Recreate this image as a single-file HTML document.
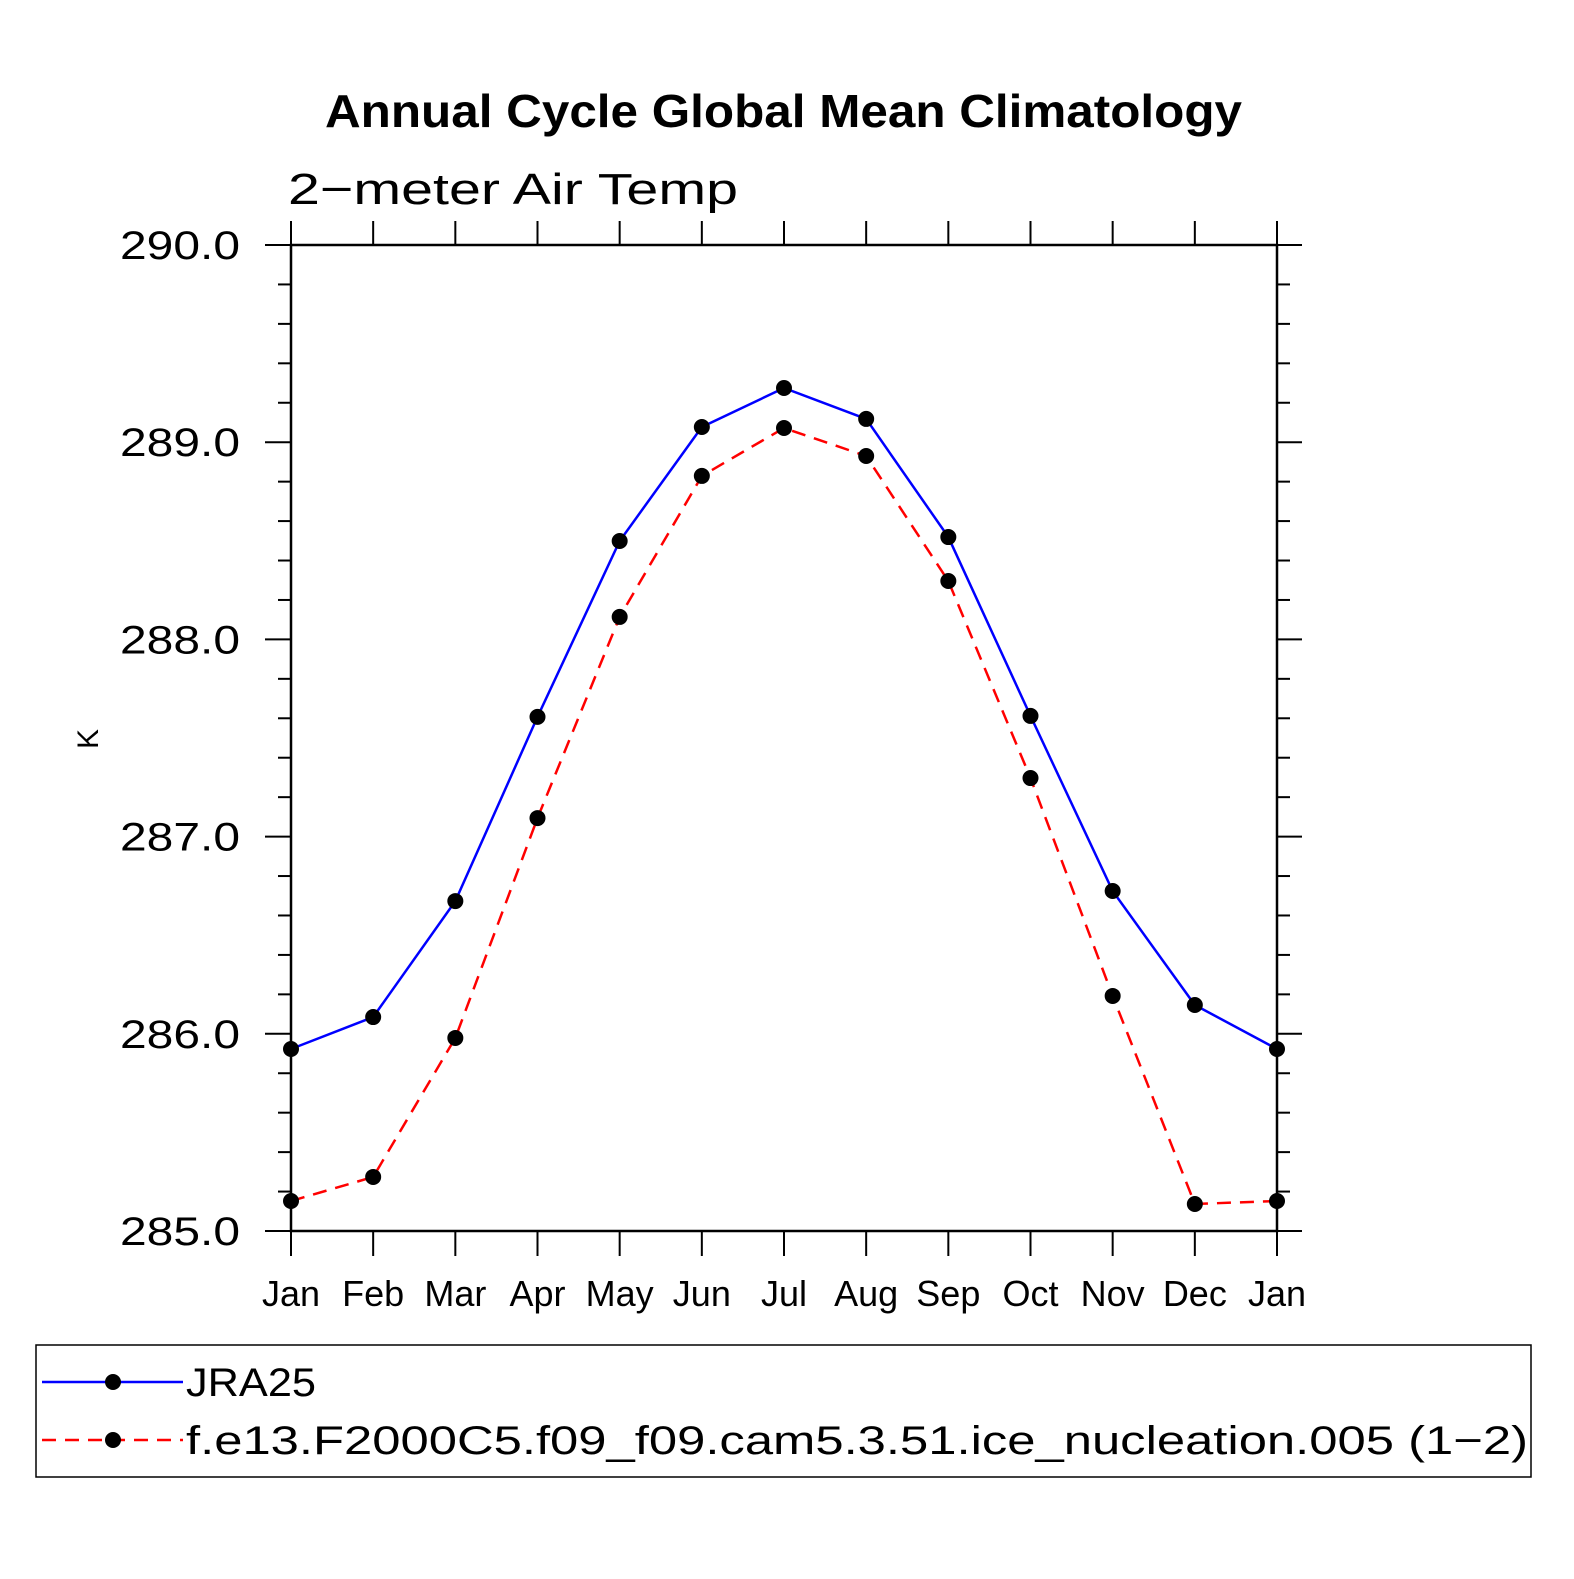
<!DOCTYPE html>
<html><head><meta charset="utf-8"><style>
html,body{margin:0;padding:0;background:#fff;}
svg text{font-family:"Liberation Sans",sans-serif;}
</style></head><body>
<svg id="chart" width="1574" height="1574" viewBox="0 0 1574 1574" xmlns="http://www.w3.org/2000/svg">
<rect width="1574" height="1574" fill="#fff"/>
<text x="325" y="127" textLength="917" lengthAdjust="spacingAndGlyphs" font-size="46" font-weight="bold">Annual Cycle Global Mean Climatology</text>
<text x="288" y="204" textLength="450" lengthAdjust="spacingAndGlyphs" font-size="44" font-weight="300">2−meter Air Temp</text>
<text transform="translate(98,739) rotate(-90)" text-anchor="middle" font-size="30">K</text>
<g id="axes"></g>
<g id="series"></g>
<rect x="36" y="1345" width="1495" height="132" fill="none" stroke="#000" stroke-width="1.5"/>
<g>
<line x1="42" y1="1382" x2="183" y2="1382" stroke="#0000ff" stroke-width="2.5"/>
<circle cx="113" cy="1382" r="8" fill="#000"/>
<text x="186" y="1396" textLength="130" lengthAdjust="spacingAndGlyphs" font-size="40">JRA25</text>
</g>
<g>
<line x1="42" y1="1440" x2="183" y2="1440" stroke="#ff0000" stroke-width="2.5" stroke-dasharray="14,9"/>
<circle cx="113" cy="1440" r="8" fill="#000"/>
<text x="186" y="1454" textLength="1342" lengthAdjust="spacingAndGlyphs" font-size="40">f.e13.F2000C5.f09_f09.cam5.3.51.ice_nucleation.005 (1−2)</text>
</g>
</svg>
<script>
const months = ["Jan","Feb","Mar","Apr","May","Jun","Jul","Aug","Sep","Oct","Nov","Dec","Jan"];
const jra25 = [285.923,286.085,286.673,287.607,288.499,289.077,289.275,289.118,288.519,287.612,286.724,286.146,285.923];
const model = [285.152,285.274,285.979,287.094,288.114,288.829,289.072,288.930,288.296,287.297,286.192,285.137,285.152];
const yTicks = [285.0,286.0,287.0,288.0,289.0,290.0];
const yMin = 285, yMax = 290;
const X0 = 291, X1 = 1277, Y0 = 1231, Y1 = 245;
const xs = i => X0 + (X1 - X0) * i / (months.length - 1);
const ys = v => Y0 - (v - yMin) / (yMax - yMin) * (Y0 - Y1);
const NS = "http://www.w3.org/2000/svg";
function mk(tag, attrs, parent){const e=document.createElementNS(NS,tag);for(const k in attrs)e.setAttribute(k,attrs[k]);parent.appendChild(e);return e;}
const axes = document.getElementById("axes");
const frame = mk("rect",{x:X0,y:Y1,width:X1-X0,height:Y0-Y1,fill:"none",stroke:"#000","stroke-width":2.5},axes);


for(let v=yMin; v<=yMax+1e-9; v+=0.2){
  const y=ys(v);
  const major = Math.abs(v-Math.round(v))<1e-6;
  const l=mk("line",{x1:major?265:278,y1:y,x2:X0,y2:y,stroke:"#000","stroke-width":2},axes);
  
  
  const r=mk("line",{x1:X1,y1:y,x2:major?1302:1290,y2:y,stroke:"#000","stroke-width":2},axes);
  
  
}
yTicks.forEach(v=>{
  const t=mk("text",{x:240,y:ys(v)+14,"text-anchor":"end","font-size":40,textLength:120,lengthAdjust:"spacingAndGlyphs"},axes);
  t.textContent=v.toFixed(1);
  
  
});
months.forEach((m,i)=>{
  const x=xs(i);
  const b=mk("line",{x1:x,y1:Y0,x2:x,y2:1256,stroke:"#000","stroke-width":2},axes);
  
  
  const tp=mk("line",{x1:x,y1:Y1,x2:x,y2:221,stroke:"#000","stroke-width":2},axes);
  
  
  const t=mk("text",{x:x,y:1306,"text-anchor":"middle","font-size":36},axes);
  t.textContent=m;
  
  
});
const series = document.getElementById("series");
function draw(vals,color,dash,name){
  const pts=vals.map((v,i)=>xs(i)+","+ys(v)).join(" ");
  const attrs={points:pts,fill:"none",stroke:color,"stroke-width":2.5};
  if(dash)attrs["stroke-dasharray"]=dash;
  const pl=mk("polyline",attrs,series);
  
  
  vals.forEach((v,i)=>{
    const c=mk("circle",{cx:xs(i),cy:ys(v),r:8,fill:"#000"},series);
    
    
  });
}
draw(jra25,"#0000ff",null,"jra25");
draw(model,"#ff0000","14,9","model");
</script>
</body></html>
